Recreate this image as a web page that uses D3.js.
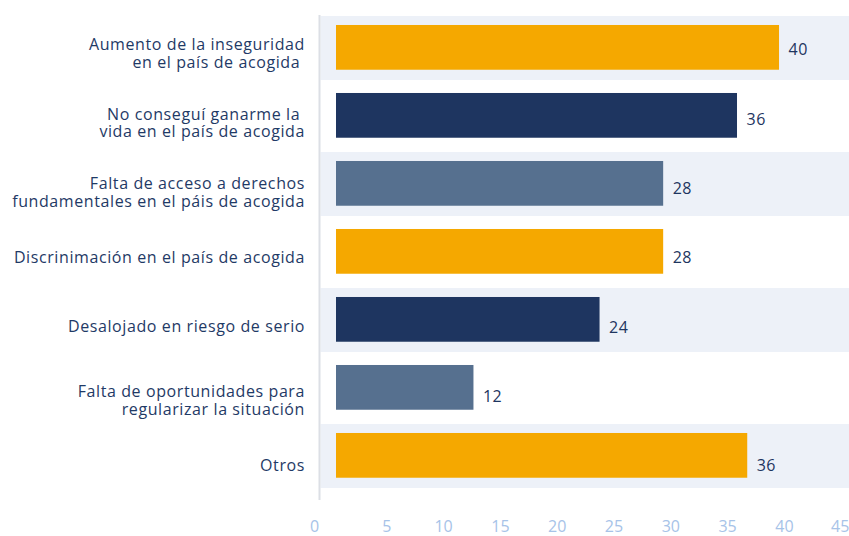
<!DOCTYPE html>
<html>
<head>
<meta charset="utf-8">
<script src="https://cdn.jsdelivr.net/npm/d3@7"></script>
<style>
  body { margin: 0; background: #fff; }
  text { font-family: "Open Sans", "Noto Sans", sans-serif; }
</style>
</head>
<body>
<div id="chart"></div>
<script>
// categorias (con saltos de linea como en el original)
const categories = [
  ["Aumento de la inseguridad", "en el país de acogida "],
  ["No conseguí ganarme la ", "vida en el país de acogida"],
  ["Falta de acceso a derechos", "fundamentales en el páis de acogida"],
  ["Discrinimación en el país de acogida"],
  ["Desalojado en riesgo de serio"],
  ["Falta de oportunidades para", "regularizar la situación"],
  ["Otros"]
];
// largo de las barras
const values = [39.0, 35.3, 28.8, 28.8, 23.2, 12.1, 36.2];
// etiquetas mostradas junto a cada barra
const valueLabels = ["40", "36", "28", "28", "24", "12", "36"];
const barColors = ["#f5a800", "#1e3560", "#56708f", "#f5a800", "#1e3560", "#56708f", "#f5a800"];
const xTicks = [0, 5, 10, 15, 20, 25, 30, 35, 40, 45];

function renderBarChart() {
  const width = 849;
  const height = 536;

  const svg = d3.select("#chart")
    .html("")
    .append("svg")
    .attr("width", width)
    .attr("height", height);

  const idx = d3.range(categories.length);

  const x = d3.scaleLinear().domain([0, 45]).range([329.5, 840.7]);
  const y = d3.scaleBand().domain(idx).range([14, 490]).paddingInner(0.06).paddingOuter(0.03);
  // las etiquetas usan la altura del eje
  const yLabel = d3.scaleBand().domain(idx).range([15, 500]);

  // fondos alternos
  svg.append("g").selectAll("rect")
    .data(idx.filter(i => i % 2 === 0))
    .join("rect")
    .attr("x", 320.5)
    .attr("y", i => y(i))
    .attr("width", width - 320.5)
    .attr("height", y.bandwidth())
    .attr("fill", "#edf1f8");

  // linea del eje
  svg.append("line")
    .attr("x1", 319.5).attr("x2", 319.5)
    .attr("y1", 15).attr("y2", 500)
    .attr("stroke", "#dcdfe5")
    .attr("stroke-width", 2);

  // barras
  const barStart = x(0) + 6.5;
  svg.append("g").selectAll("rect")
    .data(idx)
    .join("rect")
    .attr("x", barStart)
    .attr("y", i => y(i) + y.bandwidth() * 0.14)
    .attr("width", i => x(values[i]) - x(0))
    .attr("height", y.bandwidth() * 0.7)
    .attr("fill", i => barColors[i]);

  // valores
  svg.append("g").selectAll("text")
    .data(idx)
    .join("text")
    .attr("x", i => barStart + x(values[i]) - x(0) + 9.5)
    .attr("y", i => yLabel(i) + yLabel.bandwidth() / 2)
    .attr("dy", "0.36em")
    .attr("fill", "#1e3560")
    .style("font-size", "16px")
    .style("letter-spacing", "0.5px")
    .text(i => valueLabels[i]);

  // categorias
  const lineH = 17.8;
  const cat = svg.append("g").selectAll("text")
    .data(idx)
    .join("text")
    .attr("text-anchor", "end")
    .attr("fill", "#1f3a66")
    .style("font-size", "16px")
    .style("letter-spacing", "0.6px")
    .style("white-space", "pre");

  cat.each(function(i) {
    const lines = categories[i];
    const n = lines.length;
    const cy = yLabel(i) + yLabel.bandwidth() / 2 + (n > 1 ? 4 : 0);
    d3.select(this).selectAll("tspan")
      .data(lines)
      .join("tspan")
      .attr("x", 305)
      .attr("y", (d, k) => cy + (k - (n - 1) / 2) * lineH)
      .attr("dy", "0.35em")
      .text(d => d);
  });

  // eje x
  const axis = svg.append("g")
    .attr("transform", "translate(0, 532)")
    .call(d3.axisBottom(x).tickValues(xTicks).tickSize(0).tickPadding(0));
  axis.select(".domain").remove();
  axis.selectAll("text")
    .attr("y", 0)
    .attr("dy", 0)
    .attr("fill", "#a7c3e8")
    .style("font-size", "16px")
    .style("font-family", "'Open Sans', sans-serif")
    .attr("dx", d => d === 0 ? -15.5 : (d === 45 ? -1 : 0));
}

renderBarChart();
</script>
</body>
</html>
